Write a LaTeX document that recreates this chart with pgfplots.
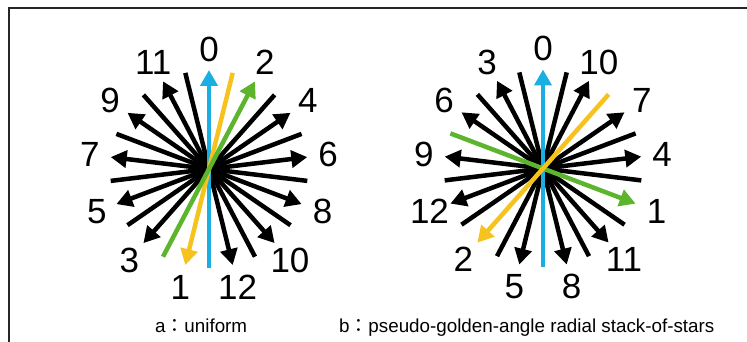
\documentclass[border=0pt]{standalone}
\usepackage{pgfplots}
\pgfplotsset{compat=1.18}
\usepackage{fontspec}
\setmainfont{Liberation Sans}
\newfontfamily\cjk{Noto Sans CJK JP}
\usetikzlibrary{arrows.meta}
\definecolor{cblue}{HTML}{1BAEE3}
\definecolor{cyel}{HTML}{F5C21E}
\definecolor{cgreen}{HTML}{5DB42D}
\pgfplotsset{
  star/.style={x=1pt, y=1pt, xmin=-150, xmax=150, ymin=-150, ymax=150,
    hide axis, clip=false, anchor=center},
  spk/.style={line width=4.5pt, -{Triangle[width=17pt,length=16pt]}},
}
\tikzset{lbl/.style={inner sep=0pt, font=\fontsize{35}{35}\selectfont}}
\begin{document}
\begin{tikzpicture}
\useasboundingbox (0,0) rectangle (747pt,342pt);
\draw[line width=1.4pt, black!85] (9pt,0pt) -- (9pt,334pt) -- (747pt,334pt);
% ---- a: uniform ----
\begin{axis}[star, at={(209pt,173pt)}]
\addplot[spk, black] coordinates {(65.6,74.1) (-65.6,-74.1)};   % 3
\addplot[spk, black] coordinates {(-81.5,-56.2) (81.5,56.2)};   % 4
\addplot[spk, black] coordinates {(92.6,35.1) (-92.6,-35.1)};   % 5
\addplot[spk, black] coordinates {(-98.3,-11.9) (98.3,11.9)};   % 6
\addplot[spk, black] coordinates {(98.3,-11.9) (-98.3,11.9)};   % 7
\addplot[spk, black] coordinates {(-92.6,35.1) (92.6,-35.1)};   % 8
\addplot[spk, black] coordinates {(81.5,-56.2) (-81.5,56.2)};   % 9
\addplot[spk, black] coordinates {(-65.6,74.1) (65.6,-74.1)};   % 10
\addplot[spk, black] coordinates {(46.0,-87.7) (-46.0,87.7)};   % 11
\addplot[spk, black] coordinates {(-23.7,96.1) (23.7,-96.1)};   % 12
\addplot[spk, cblue] coordinates {(0,-99) (0,99)};              % 0
\addplot[spk, cyel] coordinates {(23.7,96.1) (-23.7,-96.1)};    % 1
\addplot[spk, cgreen] coordinates {(-46.0,-87.7) (46.0,87.7)};  % 2
\node[lbl] at (axis cs:0,120) {0};
\node[lbl] at (axis cs:-28.7,-118) {1};
\node[lbl] at (axis cs:55.8,106.3) {2};
\node[lbl] at (axis cs:-79.6,-91) {3};
\node[lbl] at (axis cs:98.8,68.2) {4};
\node[lbl] at (axis cs:-112.2,-42.6) {5};
\node[lbl] at (axis cs:119.1,14.5) {6};
\node[lbl] at (axis cs:-119.1,14.5) {7};
\node[lbl] at (axis cs:113.5,-42.6) {8};
\node[lbl] at (axis cs:-98.8,68.2) {9};
\node[lbl] at (axis cs:81,-91) {10};
\node[lbl] at (axis cs:-55.8,106.3) {11};
\node[lbl] at (axis cs:28.7,-118) {12};
\end{axis}
% ---- b: pseudo-golden-angle ----
\begin{axis}[star, at={(543pt,173.5pt)}]
\addplot[spk, black] coordinates {(46.0,-87.7) (-46.0,87.7)};   % 3
\addplot[spk, black] coordinates {(-98.3,-11.9) (98.3,11.9)};   % 4
\addplot[spk, black] coordinates {(23.7,96.1) (-23.7,-96.1)};   % 5
\addplot[spk, black] coordinates {(81.5,-56.2) (-81.5,56.2)};   % 6
\addplot[spk, black] coordinates {(-81.5,-56.2) (81.5,56.2)};   % 7
\addplot[spk, black] coordinates {(-23.7,96.1) (23.7,-96.1)};   % 8
\addplot[spk, black] coordinates {(98.3,-11.9) (-98.3,11.9)};   % 9
\addplot[spk, black] coordinates {(-46.0,-87.7) (46.0,87.7)};   % 10
\addplot[spk, black] coordinates {(-65.6,74.1) (65.6,-74.1)};   % 11
\addplot[spk, black] coordinates {(92.6,35.1) (-92.6,-35.1)};   % 12
\addplot[spk, cblue] coordinates {(0,-99) (0,99)};              % 0
\addplot[spk, cgreen] coordinates {(-92.6,35.1) (92.6,-35.1)};  % 1
\addplot[spk, cyel] coordinates {(65.6,74.1) (-65.6,-74.1)};    % 2
\node[lbl] at (axis cs:0,120) {0};
\node[lbl] at (axis cs:113.5,-42.6) {1};
\node[lbl] at (axis cs:-79.6,-91) {2};
\node[lbl] at (axis cs:-55.8,106.3) {3};
\node[lbl] at (axis cs:119.1,14.5) {4};
\node[lbl] at (axis cs:-28.7,-118) {5};
\node[lbl] at (axis cs:-98.8,68.2) {6};
\node[lbl] at (axis cs:98.8,68.2) {7};
\node[lbl] at (axis cs:28.7,-118) {8};
\node[lbl] at (axis cs:-119.1,14.5) {9};
\node[lbl] at (axis cs:55.8,106.3) {10};
\node[lbl] at (axis cs:81,-91) {11};
\node[lbl] at (axis cs:-113.5,-42.6) {12};
\end{axis}
\node[anchor=base west, inner sep=0pt, font=\fontsize{18.8}{20}\selectfont] at (155pt,9.5pt) {a{\cjk ：}uniform};
\node[anchor=base west, inner sep=0pt, font=\fontsize{18.8}{20}\selectfont] at (339pt,9.5pt) {b{\cjk ：}pseudo-golden-angle radial stack-of-stars};
\end{tikzpicture}
\end{document}
